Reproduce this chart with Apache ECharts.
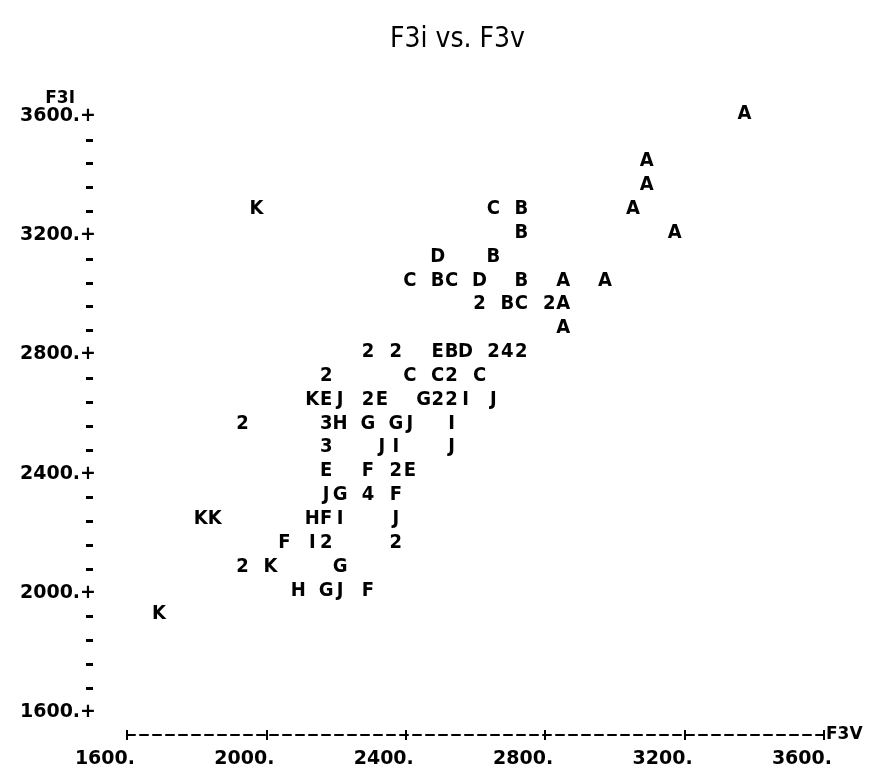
<!DOCTYPE html>
<html>
<head>
<meta charset="utf-8">
<title>F3i vs. F3v</title>
<script src="https://cdn.jsdelivr.net/npm/echarts@6/dist/echarts.min.js"></script>
<style>
  html, body { margin: 0; padding: 0; background: #fff; }
  #chart { width: 873px; height: 771px; }
</style>
</head>
<body>
<div id="chart"></div>
<script>
// printer plot: every point is a letter (group), digits = several points in one cell
// values are [F3V, F3I]
const groupA = [[3360, 3600], [3080, 3440], [3080, 3360], [3040, 3280], [3160, 3200],
  [2840, 3040], [2960, 3040], [2840, 2960], [2840, 2880]];
const groupB = [[2720, 3280], [2720, 3200], [2640, 3120], [2480, 3040], [2720, 3040],
  [2680, 2960], [2520, 2800]];
const groupC = [[2640, 3280], [2400, 3040], [2520, 3040], [2720, 2960], [2400, 2720],
  [2480, 2720], [2600, 2720]];
const groupD = [[2480, 3120], [2600, 3040], [2560, 2800]];
const groupE = [[2480, 2800], [2160, 2640], [2320, 2640], [2160, 2400], [2400, 2400]];
const groupF = [[2280, 2400], [2360, 2320], [2160, 2240], [2040, 2160], [2280, 2000]];
const groupG = [[2440, 2640], [2280, 2560], [2360, 2560], [2200, 2320], [2200, 2080], [2160, 2000]];
const groupH = [[2200, 2560], [2120, 2240], [2080, 2000]];
const groupI = [[2560, 2640], [2520, 2560], [2360, 2480], [2200, 2240], [2120, 2160]];
const groupJ = [[2200, 2640], [2640, 2640], [2400, 2560], [2320, 2480], [2520, 2480],
  [2160, 2320], [2360, 2240], [2200, 2000]];
const groupK = [[1960, 3280], [2120, 2640], [1800, 2240], [1840, 2240], [2000, 2080], [1680, 1920]];
// [F3V, F3I, count]
const overlaps = [[2600, 2960, 2], [2800, 2960, 2],
  [2280, 2800, 2], [2360, 2800, 2], [2640, 2800, 2], [2680, 2800, 4], [2720, 2800, 2],
  [2160, 2720, 2], [2520, 2720, 2],
  [2280, 2640, 2], [2480, 2640, 2], [2520, 2640, 2],
  [1920, 2560, 2], [2160, 2560, 3],
  [2160, 2480, 3],
  [2360, 2400, 2],
  [2280, 2320, 4],
  [2160, 2160, 2], [2360, 2160, 2],
  [1920, 2080, 2]];

const axisMin = 1600;
const axisMax = 3600;
const axisStep = 400;

const ink = '#000';
const printFont = 'DejaVu Sans';

function charSeries(name, points, text) {
  return {
    name: name,
    type: 'scatter',
    data: points,
    symbolSize: 1,
    itemStyle: { color: 'rgba(0,0,0,0)' },
    silent: true,
    label: {
      show: true,
      position: 'top',
      distance: 0,
      formatter: text,
      offset: [4, 8],
      fontFamily: 'DejaVu Sans Condensed',
      fontWeight: 'bold',
      fontSize: 20,
      color: ink,
      opacity: 1,
      textBorderWidth: 0
    }
  };
}

const series = [
  charSeries('A', groupA, 'A'),
  charSeries('B', groupB, 'B'),
  charSeries('C', groupC, 'C'),
  charSeries('D', groupD, 'D'),
  charSeries('E', groupE, 'E'),
  charSeries('F', groupF, 'F'),
  charSeries('G', groupG, 'G'),
  charSeries('H', groupH, 'H'),
  charSeries('I', groupI, 'I'),
  charSeries('J', groupJ, 'J'),
  charSeries('K', groupK, 'K'),
  charSeries('multi', overlaps, p => String(p.value[2]))
];

const tickFont = { fontFamily: printFont, fontWeight: 'bold', fontSize: 19, color: ink };

let chart = echarts.init(document.getElementById('chart'));
chart.setOption({
  backgroundColor: '#fff',
  animation: false,
  title: {
    text: 'F3i vs. F3v',
    left: 385,
    top: 21,
    textStyle: { fontFamily: 'DejaVu Sans Condensed', fontWeight: 'normal', fontSize: 28, color: ink }
  },
  grid: { left: 127, top: 116, width: 697, height: 596 },
  xAxis: [
    {
      type: 'value', min: axisMin, max: axisMax, interval: axisStep,
      position: 'bottom', offset: 23,
      axisLine: { show: true, lineStyle: { color: ink, width: 2, type: [8, 5] } },
      axisTick: { show: true, length: 5, lineStyle: { color: ink, width: 2 } },
      axisLabel: Object.assign({
        formatter: v => v + '.', align: 'right', margin: 15, padding: [0, -8, 0, 0]
      }, tickFont),
      splitLine: { show: false },
      name: 'F3V', nameLocation: 'end', nameGap: 2,
      nameTextStyle: { fontFamily: printFont, fontWeight: 'bold', fontSize: 17, color: ink }
    },
    {
      type: 'value', min: axisMin, max: axisMax, interval: axisStep,
      position: 'bottom', offset: 23,
      axisLine: { show: false },
      axisTick: { show: true, inside: true, length: 5, lineStyle: { color: ink, width: 2 } },
      axisLabel: { show: false },
      splitLine: { show: false }
    }
  ],
  yAxis: {
    type: 'value', min: axisMin, max: axisMax, interval: axisStep,
    position: 'left', offset: 34,
    axisLine: { show: false },
    axisTick: { show: false },
    minorTick: { show: true, splitNumber: 5, length: 7, lineStyle: { color: ink, width: 3 } },
    axisLabel: Object.assign({ formatter: v => v + '.+', margin: -3 }, tickFont),
    splitLine: { show: false },
    minorSplitLine: { show: false },
    name: 'F3I', nameLocation: 'end', nameGap: 8,
    nameTextStyle: { fontFamily: printFont, fontWeight: 'bold', fontSize: 17, color: ink, align: 'right', padding: [0, 18, 0, 0] }
  },
  series: series
});
</script>
</body>
</html>
